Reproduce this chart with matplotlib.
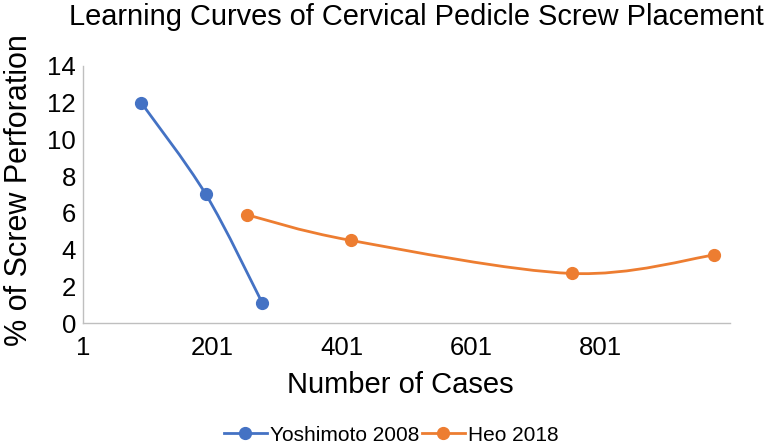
import numpy as np
import matplotlib
matplotlib.use("Agg")
import matplotlib.pyplot as plt
from matplotlib.path import Path
from matplotlib.patches import PathPatch

plt.rcParams['font.family'] = ['Liberation Sans', 'DejaVu Sans']

yosh_x = [91, 191, 278]
yosh_y = [12, 7, 1.1]
heo_x = [254, 415, 756, 976]
heo_y = [5.9, 4.5, 2.7, 3.7]
x_ticks = [1, 201, 401, 601, 801]
y_ticks = [0, 2, 4, 6, 8, 10, 12, 14]

BLUE = '#4472C4'
ORANGE = '#ED7D31'

fig = plt.figure(figsize=(7.67, 4.48), dpi=100)
ax = fig.add_axes([0.1082, 0.279, 0.8436, 0.5737])
ax.set_xlim(1, 1001)
ax.set_ylim(0, 14)


def smooth(ax, xs, ys, color):
    pts = ax.transData.transform(np.column_stack([xs, ys]))
    n = len(pts)
    verts = [pts[0]]
    codes = [Path.MOVETO]
    for i in range(n - 1):
        p0 = pts[i - 1] if i > 0 else pts[i]
        p1 = pts[i]
        p2 = pts[i + 1]
        p3 = pts[i + 2] if i + 2 < n else pts[i + 1]
        c1 = p1 + (p2 - p0) / 6.0
        c2 = p2 - (p3 - p1) / 6.0
        verts += [c1, c2, p2]
        codes += [Path.CURVE4] * 3
    path = Path(np.array(verts), codes)
    patch = PathPatch(path, facecolor='none', edgecolor=color, lw=2.0,
                      transform=None, capstyle='round', zorder=2)
    fig.add_artist(patch)


smooth(ax, yosh_x, yosh_y, BLUE)
smooth(ax, heo_x, heo_y, ORANGE)
ax.plot(yosh_x, yosh_y, 'o', color=BLUE, ms=8.5, zorder=3)
ax.plot(heo_x, heo_y, 'o', color=ORANGE, ms=8.5, zorder=3)

# legend proxies
l1, = ax.plot([], [], '-o', color=BLUE, lw=2.0, ms=8.5, label='Yoshimoto 2008')
l2, = ax.plot([], [], '-o', color=ORANGE, lw=2.0, ms=8.5, label='Heo 2018')

ax.set_xticks(x_ticks)
ax.set_yticks(y_ticks)
ax.tick_params(length=0, labelsize=18.5)
ax.tick_params(axis='y', pad=5)
ax.tick_params(axis='x', pad=9)
for s in ['top', 'right']:
    ax.spines[s].set_visible(False)
for s in ['left', 'bottom']:
    ax.spines[s].set_color('#BFBFBF')
    ax.spines[s].set_linewidth(1.0)

ax.set_xlabel('Number of Cases', fontsize=21, va='baseline')
ax.xaxis.set_label_coords(0.491, -0.272)
ax.set_ylabel('% of Screw Perforation', fontsize=22, va='center')
ax.yaxis.set_label_coords(-0.099, 0.517)
fig.text(0.543, 0.944, 'Learning Curves of Cervical Pedicle Screw Placement',
         ha='center', va='baseline', fontsize=20.9)

fig.legend(handles=[l1, l2], loc='center', bbox_to_anchor=(0.51, 0.029),
           ncol=2, frameon=False, fontsize=15, handlelength=2.07,
           columnspacing=0.1, handletextpad=0.15, borderpad=0)

fig.savefig('out.png', dpi=100)
